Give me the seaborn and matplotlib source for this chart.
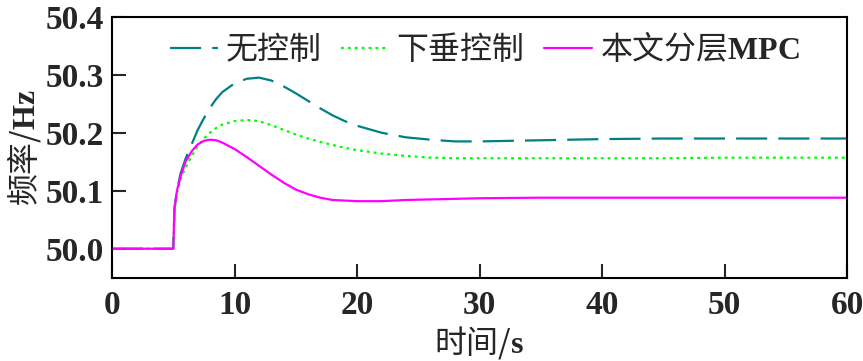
import pandas as pd
import matplotlib
matplotlib.use("Agg")
import matplotlib.pyplot as plt
import seaborn as sns

# 时间 (s)
t = [0, 5.0, 5.1, 5.3, 5.6, 6.0, 6.5, 7.0, 7.5, 8.0, 8.5, 9, 10, 11, 12, 13, 14, 15, 16,
     17, 18, 19, 20, 22, 24, 26, 28, 30, 35, 40, 45, 50, 55, 60]

# 无控制
f_none = [50.0, 50.0, 50.07, 50.10, 50.13, 50.155, 50.18, 50.205, 50.225, 50.243, 50.258, 50.27,
          50.285, 50.293, 50.295, 50.29, 50.28, 50.268, 50.255, 50.242, 50.23, 50.22, 50.212,
          50.2, 50.192, 50.188, 50.185, 50.185, 50.187, 50.189, 50.19, 50.19, 50.19, 50.19]

# 下垂控制
f_droop = [50.0, 50.0, 50.065, 50.095, 50.12, 50.14, 50.16, 50.177, 50.19, 50.2, 50.208, 50.214,
           50.22, 50.222, 50.22, 50.213, 50.205, 50.197, 50.19, 50.184, 50.179, 50.174, 50.17,
           50.164, 50.16, 50.157, 50.156, 50.156, 50.156, 50.156, 50.156, 50.157, 50.157, 50.157]

# 本文分层MPC
f_mpc = [50.0, 50.0, 50.07, 50.10, 50.125, 50.15, 50.168, 50.18, 50.186, 50.188, 50.187, 50.183,
         50.172, 50.158, 50.143, 50.128, 50.114, 50.102, 50.094, 50.088, 50.084, 50.083, 50.082,
         50.082, 50.084, 50.085, 50.086, 50.087, 50.088, 50.088, 50.088, 50.088, 50.088, 50.088]

labels = ["无控制", "下垂控制", "本文分层$\\mathbf{MPC}$"]
colors = ["#008080", "#00ff00", "#ff00ff"]

sns.set_style("ticks")
plt.rcParams["font.family"] = ["Liberation Serif", "Noto Sans CJK SC"]
plt.rcParams["mathtext.fontset"] = "custom"
plt.rcParams["mathtext.bf"] = "Liberation Serif:bold"
plt.rcParams["mathtext.rm"] = "Liberation Serif"
cjk = "Noto Sans CJK SC"

fig = plt.figure(figsize=(8.63, 3.61), dpi=100)
ax = fig.add_axes([0.1298, 0.2307, 0.8517, 0.723])

df = pd.DataFrame({"t": t, "none": f_none, "droop": f_droop, "mpc": f_mpc})

sns.lineplot(data=df, x="t", y="none", ax=ax, color=colors[0], lw=1.6, label=labels[0])
sns.lineplot(data=df, x="t", y="droop", ax=ax, color=colors[1], lw=1.6, label=labels[1])
sns.lineplot(data=df, x="t", y="mpc", ax=ax, color=colors[2], lw=1.6, label=labels[2])
lines = ax.get_lines()
lines[0].set_dashes((14, 5))
lines[1].set_dashes((1.3, 1.8))

ax.set_xlim(0, 60)
ax.set_ylim(49.95, 50.4)
ax.set_xticks([0, 10, 20, 30, 40, 50, 60])
ax.set_yticks([50.0, 50.1, 50.2, 50.3, 50.4])
ax.set_yticklabels(["50.0", "50.1", "50.2", "50.3", "50.4"])
ax.tick_params(direction="in", length=10, width=1.5, labelsize=24, pad=6)
ax.tick_params(axis="x", pad=9)
for lab in ax.get_xticklabels() + ax.get_yticklabels():
    lab.set_fontweight("bold")
for s in ax.spines.values():
    s.set_linewidth(1.5)
    s.set_color("black")

ax.set_xlabel("时间/$\\mathbf{s}$", fontsize=23, family=cjk, labelpad=2)
ax.set_ylabel("频率/$\\mathbf{Hz}$", fontsize=23, family=cjk, labelpad=2)

ax.legend(loc="upper center", ncol=3, frameon=False, prop={"family": cjk, "size": 23},
          handlelength=1.5, handletextpad=0.25, columnspacing=0.6,
          bbox_to_anchor=(0.507, 1.055))

plt.savefig("out.png", dpi=100)
